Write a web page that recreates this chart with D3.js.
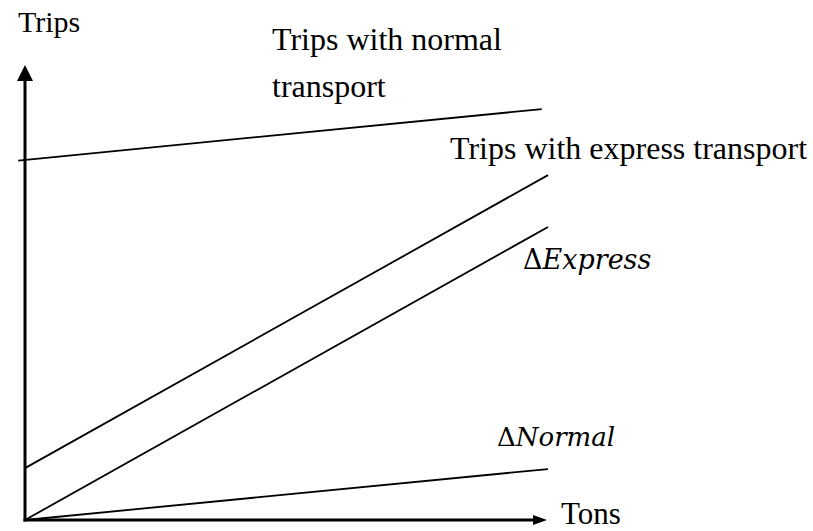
<!DOCTYPE html>
<html><head><meta charset="utf-8">
<script src="https://cdn.jsdelivr.net/npm/d3@7"></script>
<style>html,body{margin:0;padding:0;background:#fff;}svg{display:block;}</style>
</head><body>
<svg id="c" width="813" height="531"></svg>
<script>
// Data (abstract units: tons on x, trips on y)
const seriesNames = ["Trips with normal transport", "Trips with express transport", "ΔExpress", "ΔNormal"];
const normalTrips  = [[-0.13, 7.90], [9.88, 9.03]];
const expressTrips = [[0, 1.14], [10, 7.58]];
const deltaExpress = [[0, 0], [10, 6.44]];
const deltaNormal  = [[0, 0], [10, 1.12]];
const axisLabels = {x: "Tons", y: "Trips"};

const svg = d3.select("#c");
const x = d3.scaleLinear().domain([0, 10]).range([25, 548]);
const y = d3.scaleLinear().domain([0, 10]).range([520, 65]);
const line = d3.line().x(d => x(d[0])).y(d => y(d[1]));
const serif = "'Liberation Serif','Times New Roman',serif";

// axes
svg.append("line").attr("x1", x(0)).attr("y1", y(0) + 1.5).attr("x2", x(0))
  .attr("y2", y(10) + 14).attr("stroke", "#000").attr("stroke-width", 3);
svg.append("path").attr("d", `M${x(0)},${y(10)} L${x(0)-8},${y(10)+16} L${x(0)+8},${y(10)+16} Z`).attr("fill", "#000");
svg.append("line").attr("x1", x(0) - 1.5).attr("y1", y(0)).attr("x2", x(10) - 12).attr("y2", y(0))
  .attr("stroke", "#000").attr("stroke-width", 3);
svg.append("path").attr("d", `M${x(10)-1},${y(0)} L${x(10)-15},${y(0)-5} L${x(10)-15},${y(0)+5} Z`).attr("fill", "#000");

// lines
[normalTrips, expressTrips, deltaExpress, deltaNormal].forEach(d => {
  svg.append("path").attr("d", line(d)).attr("fill", "none").attr("stroke", "#000").attr("stroke-width", 1.8);
});

// labels
svg.append("text").attr("x", 18).attr("y", 32).attr("font-family", serif).attr("font-size", 30).text(axisLabels.y);
svg.append("text").attr("x", 561).attr("y", 524).attr("font-family", serif).attr("font-size", 31).text(axisLabels.x);

svg.append("defs").append("clipPath").attr("id", "clipT").append("rect").attr("x", 0).attr("y", 0).attr("width", 813).attr("height", 104);
svg.append("text").attr("x", 272).attr("y", 50).attr("font-family", serif).attr("font-size", 32).text("Trips with normal");
svg.append("text").attr("x", 272).attr("y", 97).attr("font-family", serif).attr("font-size", 32).attr("clip-path", "url(#clipT)").text("transport");
svg.append("text").attr("x", 450).attr("y", 159).attr("font-family", serif).attr("font-size", 32).text(seriesNames[1]);

const math = "'DejaVu Serif','Liberation Serif',serif";
const t1 = svg.append("text").attr("x", 523).attr("y", 269).attr("font-family", math).attr("font-size", 27);
t1.append("tspan").text("Δ");
t1.append("tspan").attr("font-style", "italic").text("Express");
const t2 = svg.append("text").attr("x", 497).attr("y", 446).attr("font-family", math).attr("font-size", 26);
t2.append("tspan").text("Δ");
t2.append("tspan").attr("font-style", "italic").text("Normal");
</script>
</body></html>
